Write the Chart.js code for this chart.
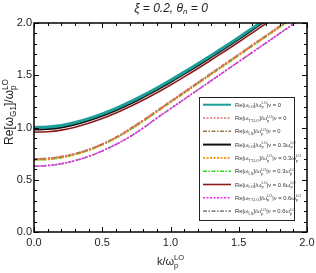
<!DOCTYPE html>
<html>
<head>
<meta charset="utf-8">
<script src="https://cdn.jsdelivr.net/npm/chart.js@4/dist/chart.umd.min.js"></script>
<style>
    html, body { margin: 0; padding: 0; background: #fff; }
    #wrap { width: 316px; height: 273px; }
</style>
</head>
<body>
<div id="wrap"><canvas id="chart" width="316" height="273"></canvas></div>
<script>
// k / omega_p^LO
const kValues = [0, 0.1, 0.2, 0.3, 0.4, 0.5, 0.6, 0.7, 0.8, 0.9, 1.0, 1.1, 1.2, 1.3, 1.4, 1.5, 1.6, 1.7, 1.8, 1.9, 2.0];

// nu = 0
const loNu0 = [1.0, 1.005, 1.02, 1.048, 1.085, 1.13, 1.183, 1.243, 1.308, 1.378, 1.452, 1.53, 1.61, 1.692, 1.776, 1.862, 1.95, 2.04, 2.13, 2.22, 2.31];
const ttNu0 = [0.70, 0.705, 0.722, 0.75, 0.79, 0.843, 0.906, 0.985, 1.07, 1.16, 1.25, 1.34, 1.43, 1.52, 1.61, 1.70, 1.79, 1.88, 1.97, 2.06, 2.15];
const lsNu0 = [0.70, 0.705, 0.722, 0.75, 0.79, 0.843, 0.906, 0.985, 1.07, 1.16, 1.25, 1.34, 1.43, 1.52, 1.61, 1.70, 1.79, 1.88, 1.97, 2.06, 2.15];
// nu = 0.3
const loNu3 = [0.98, 0.985, 1.0, 1.028, 1.066, 1.111, 1.164, 1.224, 1.29, 1.36, 1.434, 1.512, 1.592, 1.675, 1.759, 1.845, 1.933, 2.023, 2.11, 2.2, 2.29];
const ttNu3 = [0.69, 0.695, 0.712, 0.741, 0.782, 0.835, 0.898, 0.975, 1.06, 1.15, 1.24, 1.33, 1.42, 1.51, 1.60, 1.69, 1.78, 1.87, 1.96, 2.05, 2.14];
const lsNu3 = [0.69, 0.695, 0.712, 0.741, 0.782, 0.835, 0.898, 0.975, 1.06, 1.15, 1.24, 1.33, 1.42, 1.51, 1.60, 1.69, 1.78, 1.87, 1.96, 2.05, 2.14];
// nu = 0.6
const loNu6 = [0.955, 0.96, 0.975, 1.003, 1.04, 1.085, 1.138, 1.198, 1.263, 1.333, 1.407, 1.485, 1.565, 1.648, 1.732, 1.818, 1.906, 1.995, 2.085, 2.175, 2.265];
const ttNu6 = [0.63, 0.636, 0.653, 0.683, 0.724, 0.776, 0.838, 0.91, 0.995, 1.09, 1.18, 1.27, 1.36, 1.45, 1.54, 1.63, 1.72, 1.81, 1.90, 1.99, 2.08];
const lsNu6 = [0.63, 0.636, 0.653, 0.683, 0.724, 0.776, 0.838, 0.91, 0.995, 1.09, 1.18, 1.27, 1.36, 1.45, 1.54, 1.63, 1.72, 1.81, 1.90, 1.99, 2.08];

const xTickLabels = ["0.0", "0.5", "1.0", "1.5", "2.0"];
const yTickLabels = ["0.0", "0.5", "1.0", "1.5", "2.0"];

const FONT = "'Liberation Sans', Arial, sans-serif";

// legend text pieces: plain strings, {sub}, {sup} or both
const wLO = ["Re[ω", { sub: "LO" }, "]/ω", { sub: "p", sup: "LO" }, "|ν = "];
const wTT = ["Re[ω", { sub: "TT,LO" }, "]/ω", { sub: "p", sup: "LO" }, "|ν = "];
const wLS = ["Re[ω", { sub: "LS" }, "]/ω", { sub: "p", sup: "LO" }, "|ν = "];
const nu3 = ["0.3ω", { sub: "p", sup: "LO" }];
const nu6 = ["0.6ω", { sub: "p", sup: "LO" }];

const seriesDefs = [
    { data: loNu0, color: "#1a9e9a", width: 3, dash: [], label: [...wLO, "0"] },
    { data: ttNu0, color: "#e8706e", width: 1.6, dash: [2, 1.5], label: [...wTT, "0"] },
    { data: lsNu0, color: "#9c7448", width: 1.6, dash: [4, 1.5, 1.5, 1.5], label: [...wLS, "0"] },
    { data: loNu3, color: "#111111", width: 2, dash: [], label: [...wLO, ...nu3] },
    { data: ttNu3, color: "#ff8c00", width: 1.6, dash: [2, 1.5], label: [...wTT, ...nu3] },
    { data: lsNu3, color: "#2ed81a", width: 1.6, dash: [4, 1.5, 1.5, 1.5], label: [...wLS, ...nu3] },
    { data: loNu6, color: "#8b1a1a", width: 1.6, dash: [], label: [...wLO, ...nu6] },
    { data: ttNu6, color: "#ee22ee", width: 1.6, dash: [2, 1.5], label: [...wTT, ...nu6] },
    { data: lsNu6, color: "#8a8a8a", width: 1.6, dash: [4, 1.5, 1.5, 1.5], label: [...wLS, ...nu6] },
];

// draw text with sub/superscripts, returns width
function drawRich(ctx, parts, x, y, size, measureOnly) {
    let cx = x;
    const small = size * 0.68;
    parts.forEach((p) => {
        if (typeof p === "string") {
            ctx.font = `${size}px ${FONT}`;
            if (!measureOnly) ctx.fillText(p, cx, y);
            cx += ctx.measureText(p).width;
        } else {
            ctx.font = `${small}px ${FONT}`;
            let w = 0;
            if (p.sub) {
                if (!measureOnly) ctx.fillText(p.sub, cx, y + size * 0.28);
                w = Math.max(w, ctx.measureText(p.sub).width);
            }
            if (p.sup) {
                if (!measureOnly) ctx.fillText(p.sup, cx, y - size * 0.42);
                w = Math.max(w, ctx.measureText(p.sup).width);
            }
            cx += w;
        }
    });
    return cx - x;
}

function drawRichCentered(ctx, parts, cx, y, size) {
    const w = drawRich(ctx, parts, 0, 0, size, true);
    drawRich(ctx, parts, cx - w / 2, y, size, false);
}

const decorPlugin = {
    id: "decor",
    afterDraw(chart) {
        const { ctx, chartArea: a, scales } = chart;
        const xs = scales.x, ys = scales.y;
        ctx.save();
        ctx.fillStyle = "#222";
        ctx.strokeStyle = "#000";

        // ticks, inward on all four sides
        ctx.lineWidth = 1;
        for (let i = 0; i <= 20; i++) {
            const v = i / 10;
            const major = i % 5 === 0;
            const len = major ? 5 : 3;
            const px = Math.round(xs.getPixelForValue(v)) + 0.5;
            const py = Math.round(ys.getPixelForValue(v)) + 0.5;
            ctx.beginPath();
            ctx.moveTo(px, a.bottom); ctx.lineTo(px, a.bottom - len);
            ctx.moveTo(px, a.top); ctx.lineTo(px, a.top + len);
            ctx.moveTo(a.left, py); ctx.lineTo(a.left + len, py);
            ctx.moveTo(a.right, py); ctx.lineTo(a.right - len, py);
            ctx.stroke();
        }

        // frame
        ctx.lineWidth = 1.5;
        ctx.strokeRect(a.left, a.top, a.right - a.left, a.bottom - a.top);

        // tick labels
        ctx.font = `11px ${FONT}`;
        ctx.textBaseline = "middle";
        ctx.textAlign = "center";
        xTickLabels.forEach((t) => {
            ctx.fillText(t, xs.getPixelForValue(parseFloat(t)), a.bottom + 11);
        });
        ctx.textAlign = "right";
        yTickLabels.forEach((t) => {
            ctx.fillText(t, a.left - 2, ys.getPixelForValue(parseFloat(t)));
        });

        // title
        ctx.textAlign = "left";
        ctx.textBaseline = "alphabetic";
        ctx.font = `italic 12px ${FONT}`;
        const t1 = "ξ = 0.2, θ", t2 = "n", t3 = " = 0";
        const w1 = ctx.measureText(t1).width;
        const w3 = ctx.measureText(t3).width;
        ctx.font = `italic 8px ${FONT}`;
        const w2 = ctx.measureText(t2).width;
        let tx = 171 - (w1 + w2 + w3) / 2;
        ctx.font = `italic 12px ${FONT}`;
        ctx.fillText(t1, tx, 12);
        ctx.font = `italic 8px ${FONT}`;
        ctx.fillText(t2, tx + w1, 14);
        ctx.font = `italic 12px ${FONT}`;
        ctx.fillText(t3, tx + w1 + w2, 12);

        // x title
        drawRichCentered(ctx, ["k/ω", { sub: "p", sup: "LO" }], (a.left + a.right) / 2, 265, 11);

        // y title
        ctx.save();
        ctx.translate(13, 112);
        ctx.rotate(-Math.PI / 2);
        drawRichCentered(ctx, ["Re[ω", { sub: "G1" }, "]/ω", { sub: "p", sup: "LO" }], 0, 0, 12);
        ctx.restore();

        // legend
        const lx = 199, ly = 97, lw = 95, lh = 123;
        ctx.fillStyle = "#fff";
        ctx.fillRect(lx, ly, lw, lh);
        ctx.lineWidth = 1;
        ctx.strokeStyle = "#222";
        ctx.strokeRect(lx + 0.5, ly + 0.5, lw, lh);
        seriesDefs.forEach((s, i) => {
            const ry = 104.7 + i * 13.3;
            ctx.beginPath();
            ctx.setLineDash(s.dash);
            ctx.lineWidth = s.width > 2 ? 2 : s.width;
            ctx.strokeStyle = s.color;
            ctx.moveTo(203, ry);
            ctx.lineTo(231, ry);
            ctx.stroke();
            ctx.setLineDash([]);
            ctx.fillStyle = "#333";
            drawRich(ctx, s.label, 235, ry + 2, 5.8, false);
        });
        ctx.restore();
    },
};

const datasets = seriesDefs.map((s) => ({
    data: kValues.map((k, i) => ({ x: k, y: s.data[i] })),
    borderColor: s.color,
    borderWidth: s.width,
    borderDash: s.dash,
    pointRadius: 0,
    tension: 0.4,
    fill: false,
    clip: 0,
}));

new Chart(document.getElementById("chart").getContext("2d"), {
    type: "line",
    data: { datasets },
    options: {
        responsive: false,
        animation: false,
        layout: { padding: { left: 34, right: 9, top: 23, bottom: 41 } },
        plugins: { legend: { display: false }, tooltip: { enabled: false } },
        scales: {
            x: { type: "linear", min: 0, max: 2, display: false },
            y: { type: "linear", min: 0, max: 2, display: false },
        },
    },
    plugins: [decorPlugin],
});
</script>
</body>
</html>
